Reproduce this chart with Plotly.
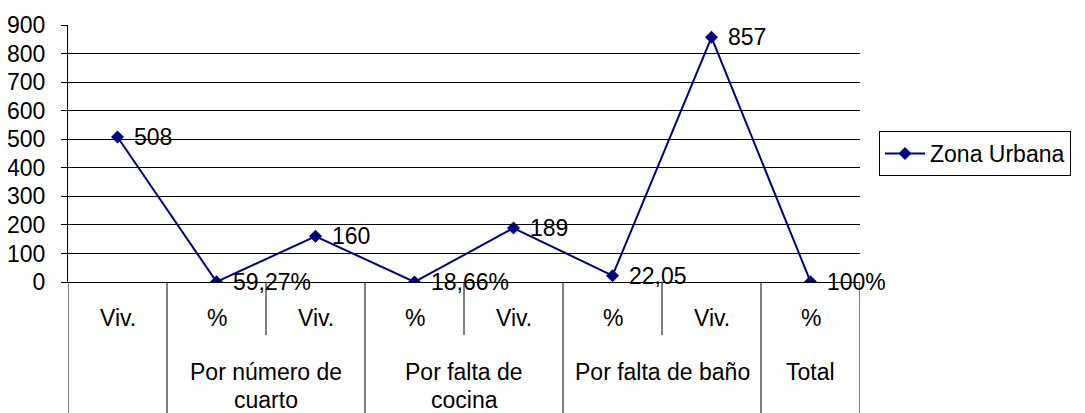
import plotly.graph_objects as go

# ---- data ----
row1_labels = ["Viv.", "%", "Viv.", "%", "Viv.", "%", "Viv.", "%"]
values = [508, 0.5927, 160, 0.1866, 189, 22.05, 857, 1.0]
value_labels = ["508", "59,27%", "160", "18,66%", "189", "22,05", "857", "100%"]
group_names = [[], ["Por número de", "cuarto"], ["Por falta de", "cocina"], ["Por falta de baño"], ["Total"]]
group_spans = [(0, 0), (1, 2), (3, 4), (5, 6), (7, 7)]
series_name = "Zona Urbana"
y_ticks = [0, 100, 200, 300, 400, 500, 600, 700, 800, 900]

FONT = "Liberation Sans, Arial, sans-serif"
FS = 23
COLOR = "#000080"

n = len(values)
xs = list(range(n))

fig = go.Figure()
fig.add_trace(go.Scatter(
    x=xs, y=values, mode="lines+markers", name=series_name,
    line=dict(color=COLOR, width=2),
    marker=dict(symbol="diamond", size=10, color=COLOR),
))

annotations = []
# data labels
for x, v, t in zip(xs, values, value_labels):
    annotations.append(dict(x=x, y=v, xref="x", yref="y", text=t, showarrow=False,
                            xanchor="left", yanchor="middle", xshift=14,
                            font=dict(family=FONT, size=FS, color="black")))

# table row 1
for x, t in zip(xs, row1_labels):
    annotations.append(dict(x=x, y=-0.14, xref="x", yref="paper", text=t, showarrow=False,
                            xanchor="center", yanchor="middle",
                            font=dict(family=FONT, size=FS, color="black")))

# table row 2 (groups)
line_y = [-0.35, -0.46]
for lines, (a, b) in zip(group_names, group_spans):
    cx = (a + b) / 2
    for i, ln in enumerate(lines):
        annotations.append(dict(x=cx, y=line_y[i], xref="x", yref="paper", text=ln, showarrow=False,
                                xanchor="center", yanchor="middle", borderpad=0,
                                font=dict(family=FONT, size=FS, color="black")))

shapes = []
# separators: long between groups, short inside groups
group_starts = set(a for a, b in group_spans)
for k in range(n + 1):
    xb = k - 0.5
    if k == 0 or k == n or k in group_starts:
        y1 = -0.52
    else:
        y1 = -0.206
    shapes.append(dict(type="line", xref="x", yref="paper", x0=xb, x1=xb, y0=0, y1=y1,
                       line=dict(color="black", width=1)))

fig.update_layout(
    width=1077, height=405,
    margin=dict(l=60, r=225, t=17, b=131),
    paper_bgcolor="white", plot_bgcolor="white",
    showlegend=True,
    legend=dict(x=1.024, y=0.5, xanchor="left", yanchor="middle",
                bordercolor="black", borderwidth=1, bgcolor="white",
                itemwidth=40,
                font=dict(family=FONT, size=FS, color="black")),
    annotations=annotations, shapes=shapes,
    font=dict(family=FONT, size=FS, color="black"),
)
fig.update_xaxes(range=[-0.5, n - 0.5], showticklabels=False, showgrid=False, automargin=False,
                 zeroline=False, showline=True, linecolor="black", linewidth=1, ticks="")
fig.update_yaxes(range=[0, 900], tickvals=y_ticks, showgrid=True, gridcolor="black", gridwidth=1,
                 automargin=False,
                 zeroline=False, showline=True, linecolor="black", linewidth=1,
                 ticks="outside", ticklen=6, tickcolor="black", ticklabelstandoff=11,
                 tickfont=dict(family=FONT, size=FS, color="black"))

fig.write_html("out.html")
